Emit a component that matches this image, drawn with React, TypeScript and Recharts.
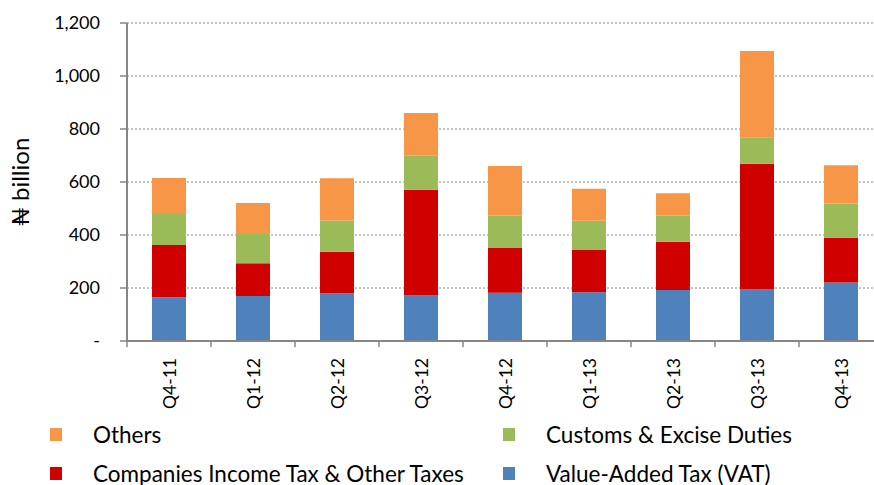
import { BarChart, Bar, XAxis, YAxis, CartesianGrid, Legend } from "recharts";

const quarters = ["Q4-11", "Q1-12", "Q2-12", "Q3-12", "Q4-12", "Q1-13", "Q2-13", "Q3-13", "Q4-13"];
const vat = [165, 170, 180, 172, 182, 184, 192, 194, 221];
const cit = [197, 123, 157, 399, 169, 159, 183, 475, 169];
const customs = [117, 111, 118, 128, 122, 111, 98, 100, 129];
const others = [136, 117, 159, 161, 187, 121, 85, 325, 144];
const yTicks = [0, 200, 400, 600, 800, 1000, 1200];

const data = quarters.map((q, i) => ({
  q,
  vat: vat[i],
  cit: cit[i],
  customs: customs[i],
  others: others[i],
}));

const FONT = "Lato, 'DejaVu Sans', sans-serif";
const AXIS = "#868686";
const CHART_W = 883;
const Y_W = 127;
const BAND = (CHART_W - Y_W) / quarters.length;

// legend order as in the original (2 columns)
const legendOrder = ["others", "customs", "cit", "vat"];

const XTick = (props: any) => {
  const { x, y, payload } = props;
  const ty = y + 17;
  return (
    <g>
      <line x1={x - BAND / 2} x2={x - BAND / 2} y1={y - 1} y2={y + 6} stroke={AXIS} strokeWidth={1.5} />
      <text
        x={x}
        y={ty}
        transform={`rotate(-90 ${x} ${ty})`}
        textAnchor="end"
        dominantBaseline="central"
        fontSize={17.5}
        fill="#000"
        fontFamily={FONT}
      >
        {payload.value}
      </text>
    </g>
  );
};

const LegendBox = (props: any) => {
  const items = [...(props.payload || [])].sort(
    (a: any, b: any) => legendOrder.indexOf(a.dataKey) - legendOrder.indexOf(b.dataKey)
  );
  return (
    <div style={{ position: "relative", width: 874, height: 74, fontFamily: FONT }}>
      {items.map((it: any, i: number) => {
        const col = i % 2;
        const row = Math.floor(i / 2);
        const left = col === 0 ? 50 : 503;
        const top = row === 0 ? 23 : 62;
        return (
          <div key={it.dataKey} style={{ position: "absolute", left, top: top - 13, height: 26, display: "flex", alignItems: "center" }}>
            <span style={{ width: 12, height: 13, background: it.color, display: "inline-block" }} />
            <span style={{ marginLeft: 31, fontSize: 22.5, color: "#000", whiteSpace: "nowrap" }}>{it.value}</span>
          </div>
        );
      })}
    </div>
  );
};

export default function App() {
  return (
    <div style={{ position: "absolute", left: 0, top: 0, width: 874, height: 485, overflow: "hidden", background: "#fff" }}>
      <BarChart
        width={CHART_W}
        height={485}
        data={data}
        margin={{ top: 23, right: 0, bottom: 0, left: 0 }}
        barSize={34}
        style={{ fontFamily: FONT }}
      >
        <CartesianGrid vertical={false} stroke={AXIS} strokeDasharray="2 2" />
        <XAxis
          dataKey="q"
          height={70}
          interval={0}
          tickLine={false}
          tickSize={0}
          tickMargin={0}
          axisLine={{ stroke: AXIS, strokeWidth: 2 }}
          tick={<XTick />}
        />
        <YAxis
          width={Y_W}
          domain={[0, 1200]}
          ticks={yTicks}
          interval={0}
          tickSize={7}
          tickMargin={20}
          axisLine={{ stroke: AXIS, strokeWidth: 2 }}
          tickLine={{ stroke: AXIS, strokeWidth: 1.5 }}
          tick={{ fill: "#000", fontSize: 18, fontFamily: FONT }}
          tickFormatter={(v: number) => (v === 0 ? "-" : v.toLocaleString("en-US"))}
          label={{
            value: "₦ billion",
            angle: -90,
            position: "insideLeft",
            offset: 20,
            style: { fontSize: 24, fill: "#000", fontFamily: FONT, textAnchor: "middle" },
          }}
        />
        <Legend verticalAlign="bottom" align="left" content={<LegendBox />} wrapperStyle={{ left: 0, width: 874 }} />
        <Bar dataKey="vat" name="Value-Added Tax (VAT)" stackId="a" fill="#4F81BD" isAnimationActive={false} />
        <Bar dataKey="cit" name="Companies Income Tax & Other Taxes" stackId="a" fill="#D00000" isAnimationActive={false} />
        <Bar dataKey="customs" name="Customs & Excise Duties" stackId="a" fill="#9BBB59" isAnimationActive={false} />
        <Bar dataKey="others" name="Others" stackId="a" fill="#F79646" isAnimationActive={false} />
      </BarChart>
    </div>
  );
}
